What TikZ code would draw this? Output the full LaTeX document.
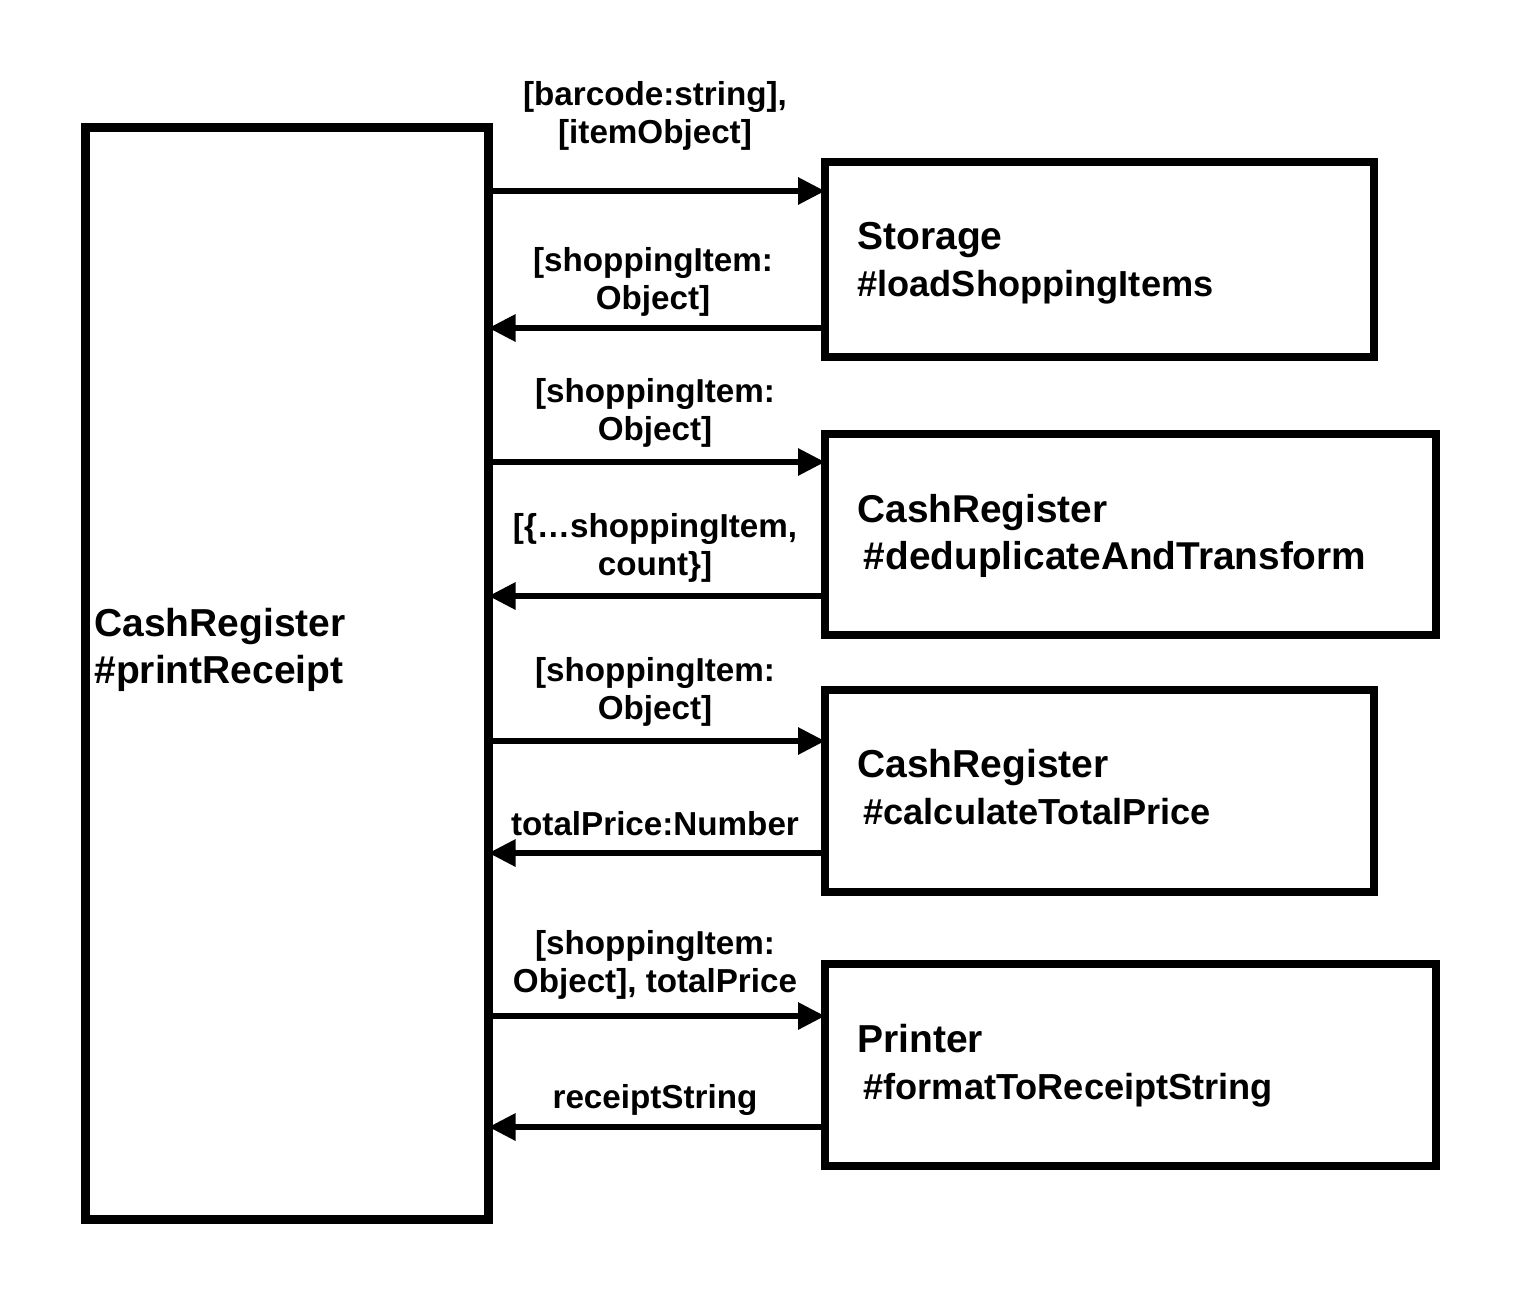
\documentclass[tikz,border=0pt]{standalone}
\usepackage{fontspec}
\setmainfont{Liberation Sans}
\usetikzlibrary{arrows.meta}
\tikzset{
  box/.style={draw, line width=4pt, inner sep=0pt, outer sep=0pt},
  bigbox/.style={draw, line width=4.5pt, inner sep=0pt, outer sep=0pt},
  arr/.style={line width=3pt, -{Triangle[length=13.5pt,width=13pt]}},
  lbl/.style={inner sep=0pt, align=center, font=\fontsize{16.6}{19}\selectfont\bfseries},
  btxt/.style={inner sep=0pt, align=left, anchor=west, font=\fontsize{19.5}{23.5}\selectfont\bfseries},
}
\newcommand{\secl}{\fontsize{18.1}{23.5}\selectfont}
\begin{document}
\begin{tikzpicture}[x=0.5pt, y=-0.5pt]
\useasboundingbox (0,0) rectangle (1518,1312);
% boxes (centre-line coordinates)
\node[bigbox, minimum width=201.5pt, minimum height=546pt] (L) at (287,673.5) {};
\node[box, minimum width=274.5pt, minimum height=97.5pt] (S) at (1099.5,259.5) {};
\node[box, minimum width=305.5pt, minimum height=100.5pt] (D) at (1130.5,534.5) {};
\node[box, minimum width=274.5pt, minimum height=101pt] (T) at (1099.5,791) {};
\node[box, minimum width=305.5pt, minimum height=101pt] (P) at (1130.5,1065) {};
% box texts
\node[btxt] (Lt) at (94,649.5) {CashRegister\\\#printReceipt};
\node[btxt] (St) at (857,263) {Storage\\\secl\#loadShoppingItems};
\node[btxt, font=\fontsize{19.4}{23.5}\selectfont\bfseries] (Dt) at (857,535.5) {CashRegister\\\,\#deduplicateAndTransform};
\node[btxt] (Tt) at (857,787.5) {CashRegister\\\secl\,\#calculateTotalPrice};
\node[btxt] (Pt) at (857,1065.5) {Printer\\\secl\,\#formatToReceiptString};
% arrows
\draw[arr] (L.east |- 0,191) -- (S.west |- 0,191);
\draw[arr] (S.west |- 0,328) -- (L.east |- 0,328);
\draw[arr] (L.east |- 0,462) -- (D.west |- 0,462);
\draw[arr] (D.west |- 0,596) -- (L.east |- 0,596);
\draw[arr] (L.east |- 0,741) -- (T.west |- 0,741);
\draw[arr] (T.west |- 0,853) -- (L.east |- 0,853);
\draw[arr] (L.east |- 0,1016) -- (P.west |- 0,1016);
\draw[arr] (P.west |- 0,1127) -- (L.east |- 0,1127);
% labels
\node[lbl] (a1) at (655,116) {[barcode:string],\\{}[itemObject]};
\node[lbl] (a2) at (653,282) {[shoppingItem:\\Object]};
\node[lbl] (a3) at (655,413) {[shoppingItem:\\Object]};
\node[lbl] (a4) at (655,548) {[\{…shoppingItem,\\count\}]};
\node[lbl] (a5) at (655,692) {[shoppingItem:\\Object]};
\node[lbl] (a6) at (655,824) {totalPrice:Number};
\node[lbl] (a7) at (655,965) {[shoppingItem:\\Object], totalPrice};
\node[lbl] (a8) at (655,1100) {receiptString};
\end{tikzpicture}
\end{document}
